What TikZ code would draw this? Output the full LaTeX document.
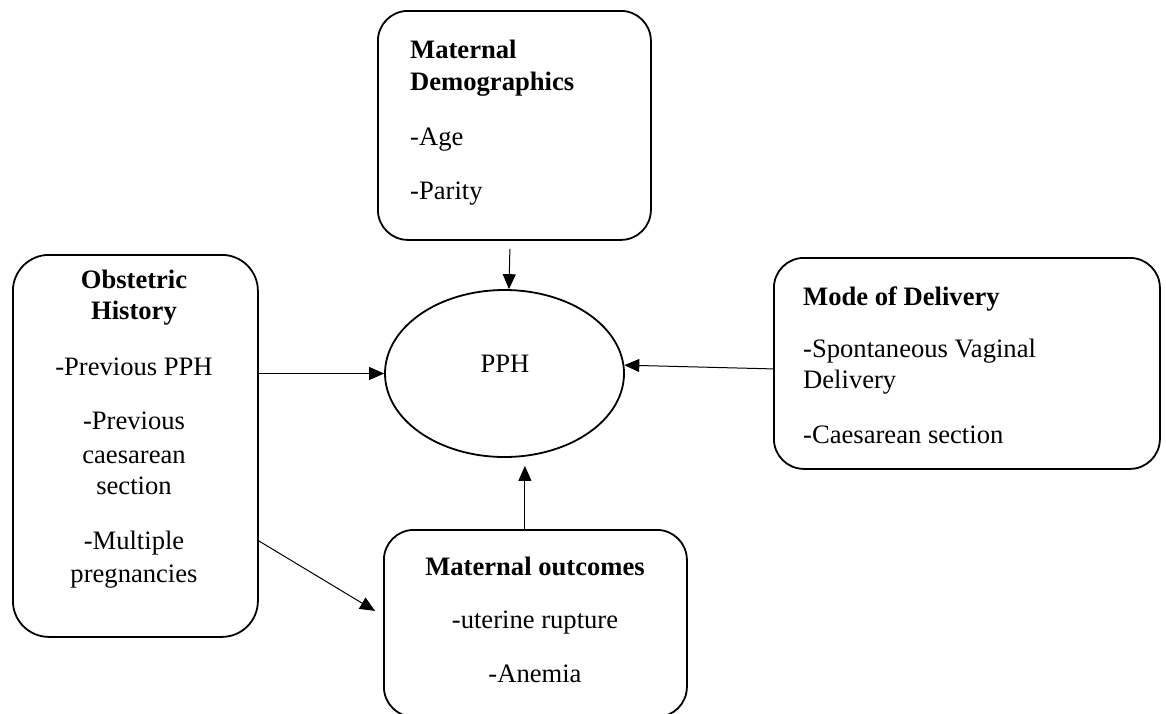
\documentclass[tikz,border=0pt]{standalone}
\usepackage{fontspec}
\setmainfont{Liberation Serif}
\usetikzlibrary{arrows.meta,shapes.geometric}
\begin{document}
\begin{tikzpicture}[x=1pt,y=-1pt,
  box/.style={draw,line width=1.8pt,rounded corners=30pt,inner sep=0pt,anchor=north west},
  txt/.style={inner sep=0pt,font=\fontsize{26.6}{31}\selectfont},
  ttl/.style={txt,font=\fontsize{26.6}{31}\selectfont\bfseries},
  arr/.style={line width=1pt,-{Triangle[length=15pt,width=13pt]}}]
\useasboundingbox (0,0) rectangle (1166,713);
\clip (0,0) rectangle (1166,713);
% boxes
\node[box,minimum width=273pt,minimum height=229pt] (demo) at (377,10) {};
\node[box,rounded corners=36pt,minimum width=245pt,minimum height=382pt] (obst) at (12,254) {};
\node[box,minimum width=386pt,minimum height=211pt] (mode) at (773,257) {};
\node[box,minimum width=303pt,minimum height=187pt] (out) at (383,529) {};
\node[draw,ellipse,line width=1.8pt,minimum width=239pt,minimum height=167pt,inner sep=0pt] (pph) at (504.5,373.5) {};
% texts
\node[txt,anchor=base] (tpph) at (505,372) {PPH};
\node[ttl,anchor=base west] (d1) at (410,58) {Maternal};
\node[ttl,anchor=base west] (d2) at (410,90) {Demographics};
\node[txt,anchor=base west] (d3) at (410,145) {-Age};
\node[txt,anchor=base west] (d4) at (410,199) {-Parity};
\node[ttl,anchor=base] (o1) at (134,288) {Obstetric};
\node[ttl,anchor=base] (o2) at (134,319) {History};
\node[txt,anchor=base] (o3) at (134,375) {-Previous PPH};
\node[txt,anchor=base] (o4) at (134,429) {-Previous};
\node[txt,anchor=base] (o5) at (134,463) {caesarean};
\node[txt,anchor=base] (o6) at (134,494) {section};
\node[txt,anchor=base] (o7) at (134,549) {-Multiple};
\node[txt,anchor=base] (o8) at (134,582) {pregnancies};
\node[ttl,anchor=base west] (m1) at (803,305) {Mode of Delivery};
\node[txt,anchor=base west] (m2) at (803,357) {-Spontaneous Vaginal};
\node[txt,anchor=base west] (m3) at (803,388) {Delivery};
\node[txt,anchor=base west] (m4) at (803,443) {-Caesarean section};
\node[ttl,anchor=base] (u1) at (535,575) {Maternal outcomes};
\node[txt,anchor=base] (u2) at (535,628) {-uterine rupture};
\node[txt,anchor=base] (u3) at (535,682) {-Anemia};
% connectors
\draw[arr] ([xshift=-4.5pt,yshift=-8pt]demo.south) -- (pph.87);
\draw[arr] (obst.east |- pph.west) -- (pph.west);
\draw[arr] ([yshift=-5.5pt]mode.west) -- (pph.4);
\coordinate (ostart) at ([xshift=-10.5pt]out.north);
\draw[arr,shorten >=8pt] (ostart) -- (ostart |- pph.south);
\draw[arr] ([yshift=-95pt]obst.east) -- ([xshift=-8pt,yshift=12.5pt]out.west);
\end{tikzpicture}
\end{document}
